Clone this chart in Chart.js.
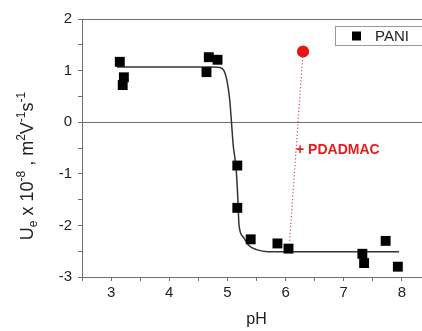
<!DOCTYPE html>
<html>
<head>
<meta charset="utf-8">
<script src="https://cdn.jsdelivr.net/npm/chart.js@4.4.0/dist/chart.umd.min.js"></script>
<style>
  html, body { margin: 0; padding: 0; background: #fff; overflow: hidden; }
  #wrap { width: 440px; height: 331px; }
</style>
</head>
<body>
<div id="wrap"><canvas id="chart" width="440" height="331"></canvas></div>
<script>
// PANI measured points
const paniPH = [3.15, 3.22, 3.2, 4.68, 4.83, 4.64, 5.17, 5.17, 5.4, 5.86, 6.05, 7.32, 7.35, 7.72, 7.93];
const paniU = [1.17, 0.87, 0.72, 1.26, 1.21, 0.97, -0.84, -1.66, -2.27, -2.35, -2.45, -2.55, -2.73, -2.30, -2.80];

// fitted curve
const fitPH = [3.1, 4.75, 4.87, 4.94, 4.99, 5.04, 5.07, 5.1, 5.15, 5.18, 5.2, 5.27, 5.36, 5.5, 5.7, 7.95];
const fitU = [1.07, 1.07, 1.06, 1.0, 0.82, 0.43, 0.0, -0.45, -0.9, -1.5, -2.0, -2.22, -2.38, -2.47, -2.51, -2.51];

// after adding PDADMAC
const pdadmacPH = [6.07, 6.3];
const pdadmacU = [-2.3, 1.37];

const xTicks = [3, 4, 5, 6, 7, 8];
const yTicks = [-3, -2, -1, 0, 1, 2];

const toPts = (xs, ys) => xs.map((x, i) => ({ x: x, y: ys[i] }));

const FONT = "'Liberation Sans', Arial, sans-serif";
const AXIS = "#707070";

// frame, legend, red label, y title
const extras = {
  id: "extras",
  afterDraw(chart) {
    const ctx = chart.ctx;
    const a = chart.chartArea;
    const xs = chart.scales.x, ys = chart.scales.y;
    ctx.save();
    // top and right frame
    ctx.strokeStyle = AXIS;
    ctx.lineWidth = 1;
    ctx.beginPath();
    ctx.moveTo(a.left, a.top + 0.5);
    ctx.lineTo(a.right, a.top + 0.5);
    ctx.lineTo(a.right, a.bottom);
    ctx.stroke();

    // legend box
    ctx.fillStyle = "#fff";
    ctx.strokeStyle = "#999";
    ctx.fillRect(335.5, 26.5, 93, 19);
    ctx.strokeRect(335.5, 26.5, 93, 19);
    ctx.fillStyle = "#000";
    ctx.fillRect(352, 31.5, 9, 9);
    ctx.font = "15px " + FONT;
    ctx.textBaseline = "middle";
    ctx.fillStyle = "#222";
    ctx.fillText(chart.data.datasets[0].label, 375, 36.5);

    // red label
    ctx.fillStyle = "#e81c1c";
    ctx.font = "bold 14px " + FONT;
    ctx.fillText("+ PDADMAC", xs.getPixelForValue(6.18), ys.getPixelForValue(-0.54));

    // y title with sub/superscripts
    const big = "18px " + FONT, small = "12px " + FONT;
    const parts = [
      ["U", big, 0], ["e", small, 4], [" x 10", big, 0], ["-8", small, -8],
      [" , m", big, 0], ["2", small, -8], ["V", big, 0], ["-1", small, -8],
      ["s", big, 0], ["-1", small, -8]
    ];
    let total = 0;
    parts.forEach(p => { ctx.font = p[1]; total += ctx.measureText(p[0]).width; });
    ctx.translate(33, 166);
    ctx.rotate(-Math.PI / 2);
    ctx.textBaseline = "alphabetic";
    ctx.fillStyle = "#222";
    let cx = -total / 2;
    parts.forEach(p => {
      ctx.font = p[1];
      ctx.fillText(p[0], cx, p[2]);
      cx += ctx.measureText(p[0]).width;
    });
    ctx.restore();
  }
};

new Chart(document.getElementById("chart"), {
  data: {
    datasets: [
      {
        type: "scatter",
        label: "PANI",
        data: toPts(paniPH, paniU),
        pointStyle: "rect",
        pointRadius: 7,
        pointHoverRadius: 7,
        backgroundColor: "#000",
        borderColor: "#000",
        borderWidth: 0,
        order: 0
      },
      {
        type: "line",
        label: "fit",
        data: toPts(fitPH, fitU),
        borderColor: "#333",
        borderWidth: 1.5,
        pointRadius: 0,
        cubicInterpolationMode: "monotone",
        fill: false,
        order: 2
      },
      {
        type: "line",
        label: "+ PDADMAC",
        data: toPts(pdadmacPH, pdadmacU),
        borderColor: "#c85050",
        borderWidth: 1.2,
        borderDash: [1.2, 2.2],
        pointRadius: [0, 5.5],
        pointBackgroundColor: "#e81515",
        pointBorderColor: "#e81515",
        fill: false,
        order: 1
      }
    ]
  },
  options: {
    responsive: false,
    animation: false,
    layout: { padding: { top: 19, right: 9, left: 0, bottom: 0 } },
    plugins: { legend: { display: false }, tooltip: { enabled: false } },
    scales: {
      x: {
        type: "linear",
        min: 2.5,
        max: 8.5,
        afterFit: s => { s.height = 54; },
        afterBuildTicks: s => { s.ticks = [2.5, 3, 3.5, 4, 4.5, 5, 5.5, 6, 6.5, 7, 7.5, 8, 8.5].map(v => ({ value: v })); },
        ticks: {
          autoSkip: false,
          maxRotation: 0,
          padding: 3,
          color: "#222",
          font: { size: 15, family: FONT },
          callback: v => (xTicks.includes(v) ? String(v) : "")
        },
        grid: { color: "transparent", tickColor: AXIS, tickLength: 4, drawOnChartArea: false },
        border: { color: AXIS, width: 1 },
        title: { display: true, text: "pH", color: "#222", font: { size: 16, family: FONT }, padding: { top: 0, bottom: 2 } }
      },
      y: {
        type: "linear",
        min: -3,
        max: 2,
        afterFit: s => { s.width = 82; },
        afterBuildTicks: s => { s.ticks = [-3, -2.5, -2, -1.5, -1, -0.5, 0, 0.5, 1, 1.5, 2].map(v => ({ value: v })); },
        ticks: {
          autoSkip: false,
          padding: 6,
          color: "#222",
          font: { size: 15, family: FONT },
          callback: v => (yTicks.includes(v) ? String(v) : "")
        },
        grid: {
          color: c => (c.tick && c.tick.value === 0 ? AXIS : "transparent"),
          tickColor: AXIS,
          tickLength: 4
        },
        border: { color: AXIS, width: 1 }
      }
    }
  },
  plugins: [extras]
});
</script>
</body>
</html>
